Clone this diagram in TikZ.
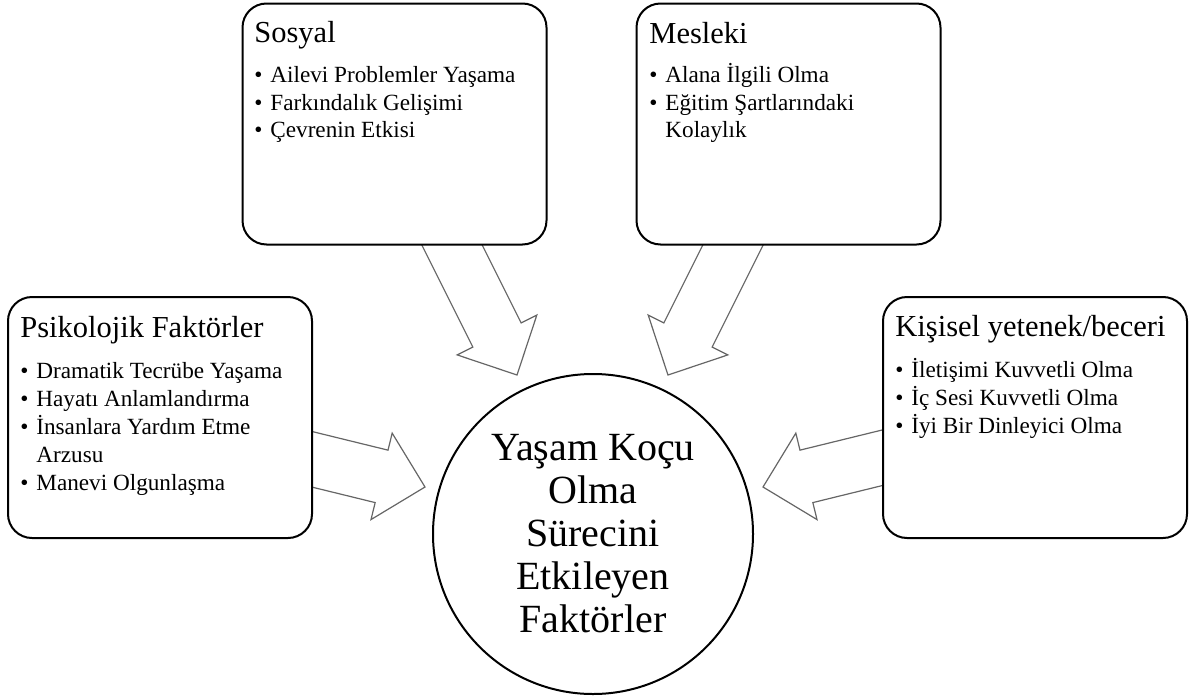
\documentclass[tikz,border=0pt]{standalone}
\usepackage{fontspec}
\setmainfont{Liberation Serif}
\usetikzlibrary{calc,shapes}
\tikzstyle{box} = [rectangle, draw, line width=1pt, rounded corners=12pt, fill=white, minimum width=152pt, minimum height=120.5pt, inner sep=0pt]
\tikzstyle{hubcircle} = [circle, draw, line width=1pt, fill=white, minimum size=160pt, inner sep=0pt]
\tikzstyle{boxtitle} = [anchor=base west, inner sep=0pt, font=\fontsize{15.25}{18}\selectfont]
\tikzstyle{boxlist} = [anchor=base west, inner sep=0pt, font=\fontsize{11.6}{14}\selectfont]
\tikzstyle{bigarrow} = [draw=black!60, line width=0.6pt, fill=white, line join=miter]
\newcommand{\itm}{\makebox[8pt][l]{\textbullet}}
\newcommand{\cont}{\hspace*{8pt}}
% block arrow from tail #1 to tip #2
\newcommand{\blockarrow}[2]{%
  \coordinate (ab) at ($(#2)!22.35pt!(#1)$);
  \draw[bigarrow] ($(#1)!13.5pt!90:(#2)$) -- ($(ab)!13.5pt!90:(#2)$) -- ($(ab)!22.25pt!90:(#2)$)
    -- (#2) -- ($(ab)!22.25pt!-90:(#2)$) -- ($(ab)!13.5pt!-90:(#2)$) -- ($(#1)!13.5pt!-90:(#2)$) -- cycle;
}

\begin{document}
\begin{tikzpicture}[x=0.5pt, y=-0.5pt]
    \useasboundingbox (0,0) rectangle (1193,696);

    % arrow ends
    \coordinate (sosyal-tail) at (436.5,214);
    \coordinate (sosyal-tip) at (517,375);
    \coordinate (mesleki-tail) at (748.5,214);
    \coordinate (mesleki-tip) at (668,375);
    \coordinate (psiko-tail) at (270,449);
    \coordinate (psiko-tip) at (425,487);
    \coordinate (kisisel-tail) at (918,449);
    \coordinate (kisisel-tip) at (763,487);

    % arrows first, boxes cover their tails
    \blockarrow{sosyal-tail}{sosyal-tip}
    \blockarrow{mesleki-tail}{mesleki-tip}
    \blockarrow{psiko-tail}{psiko-tip}
    \blockarrow{kisisel-tail}{kisisel-tip}

    % boxes
    \node [box] (sosyal) at (394.5,124) {};
    \node [box] (mesleki) at (788.5,124) {};
    \node [box] (psiko) at (160,417.5) {};
    \node [box] (kisisel) at (1035,417.5) {};
    \node [hubcircle] (hub) at (593,534) {};

    % box texts
    \node [boxtitle] (sosyal-title) at (254,42) {Sosyal};
    \node [boxlist] (sosyal-list) at (254,82) {\parbox[t]{145pt}{\raggedright
      \itm Ailevi Problemler Yaşama\\
      \itm Farkındalık Gelişimi\\
      \itm Çevrenin Etkisi}};
    \node [boxtitle] (mesleki-title) at (649,43) {Mesleki};
    \node [boxlist] (mesleki-list) at (649,82) {\parbox[t]{145pt}{\raggedright
      \itm Alana İlgili Olma\\
      \itm Eğitim Şartlarındaki\\
      \cont Kolaylık}};
    \node [boxtitle] (psiko-title) at (20,337) {Psikolojik Faktörler};
    \node [boxlist] (psiko-list) at (20,378) {\parbox[t]{145pt}{\raggedright
      \itm Dramatik Tecrübe Yaşama\\
      \itm Hayatı Anlamlandırma\\
      \itm İnsanlara Yardım Etme\\
      \cont Arzusu\\
      \itm Manevi Olgunlaşma}};
    \node [boxtitle] (kisisel-title) at (895,336) {Kişisel yetenek/beceri};
    \node [boxlist] (kisisel-list) at (895,377) {\parbox[t]{145pt}{\raggedright
      \itm İletişimi Kuvvetli Olma\\
      \itm İç Sesi Kuvvetli Olma\\
      \itm İyi Bir Dinleyici Olma}};

    % centre text
    \node [anchor=base, inner sep=0pt, font=\fontsize{20}{21.5}\selectfont] (hub-text) at (593,460)
      {\parbox[t]{150pt}{\centering Yaşam Koçu\\Olma\\Sürecini\\Etkileyen\\Faktörler}};
\end{tikzpicture}
\end{document}
